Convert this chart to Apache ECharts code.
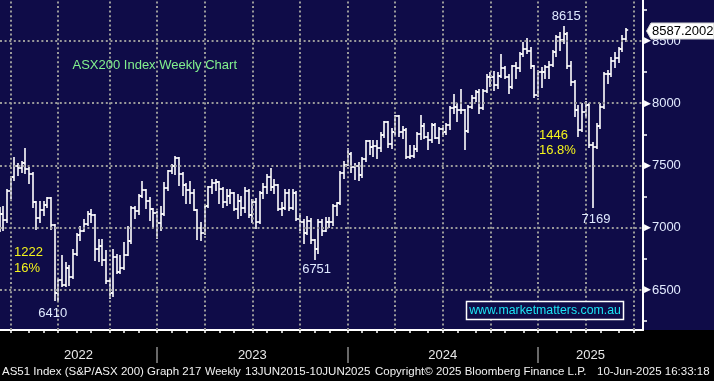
<!DOCTYPE html>
<html><head><meta charset="utf-8">
<script src="https://cdn.jsdelivr.net/npm/echarts@6/dist/echarts.min.js"></script>
<style>
html,body{margin:0;padding:0;}
body{background:linear-gradient(#0f0c48 0,#0f0c48 330px,#000 330px,#000 100%);width:714px;height:381px;overflow:hidden;}
#c{width:714px;height:381px;}
</style>
</head><body><div id="c"></div>
<script>
// Weekly bars, first bar = week ending 2022-03-04
const START_WEEK = '2022-03-04';
const open = [7050,7111,7064,7296,7406,7493,7478,7523,7473,7435,7205,7075,7145,7182,7238,7021,6475,6578,6539,6678,6606,6792,6945,6974,7033,7114,7104,6828,6855,6739,6574,6474,6762,6645,6677,6785,6892,7158,7135,7259,7301,7214,7149,7122,7038,7110,7323,7452,7494,7559,7434,7347,7307,7283,7145,6995,6955,7178,7325,7362,7366,7309,7205,7256,7279,7154,7217,7158,7294,7099,7203,7049,7281,7325,7410,7326,7340,7148,7159,7279,7155,7279,7069,7048,6954,7051,6900,6827,7050,6977,7050,7044,7173,7195,7442,7505,7590,7489,7499,7422,7550,7699,7645,7658,7643,7745,7847,7670,7771,7896,7773,7789,7567,7575,7629,7749,7814,7727,7701,7822,7724,7796,7768,7822,7959,7971,7945,7943,7778,7970,8044,8092,7959,8099,8209,8212,8150,8215,8283,8211,8134,8296,8285,8393,8436,8421,8296,8067,8251,8250,8294,8309,8408,8532,8511,8556,8297,8172,7948,7789,7932,7982,7667,7646,7819,7968,8238,8231,8343,8361,8434,8515];
const high = [7160,7170,7300,7410,7560,7510,7530,7632,7480,7440,7210,7210,7210,7240,7240,7021,6590,6770,6720,6690,6820,6950,7010,7065,7130,7140,7105,6905,6900,6810,6585,6825,6785,6770,6880,7010,7170,7170,7265,7370,7305,7240,7150,7125,7170,7360,7455,7505,7568,7560,7440,7350,7370,7300,7145,7040,7180,7330,7380,7385,7370,7320,7300,7300,7280,7260,7250,7320,7300,7220,7230,7290,7350,7420,7470,7380,7345,7200,7300,7300,7300,7285,7100,7060,7090,7070,6905,7060,7060,7080,7080,7180,7200,7450,7530,7630,7600,7510,7520,7560,7700,7700,7700,7700,7760,7850,7850,7790,7900,7900,7810,7790,7660,7660,7760,7900,7830,7760,7830,7830,7800,7820,7830,7970,8070,7990,8110,7945,7980,8060,8100,8110,8110,8230,8240,8250,8240,8384,8290,8230,8300,8320,8400,8480,8514,8440,8300,8260,8280,8300,8330,8420,8540,8560,8615,8560,8330,8180,7980,7990,8010,7990,7680,7830,7990,8240,8260,8360,8400,8440,8540,8595];
const low = [6975,6985,7050,7240,7380,7420,7450,7440,7358,7170,6990,7050,7100,7170,6990,6420,6410,6530,6530,6540,6600,6780,6900,6970,7020,7050,6740,6730,6700,6555,6433,6450,6640,6640,6670,6780,6880,7080,7110,7250,7160,7060,7010,6920,6985,7100,7300,7440,7430,7345,7265,7200,7200,7140,6910,6900,6950,7170,7280,7300,7200,7170,7180,7200,7140,7080,7100,7130,7090,7050,7000,7040,7240,7280,7300,7280,7140,7100,7150,7140,7150,7060,6980,6880,6950,6880,6751,6800,6940,6970,7010,7020,7100,7190,7400,7500,7450,7390,7380,7410,7540,7590,7580,7560,7620,7730,7650,7640,7750,7740,7720,7560,7560,7570,7620,7710,7720,7630,7690,7720,7680,7740,7750,7790,7920,7860,7920,7630,7770,7960,8020,7920,7950,8090,8140,8110,8120,8210,8200,8080,8120,8200,8260,8380,8400,8280,8050,8060,8130,8200,8200,8300,8380,8430,8480,8280,8150,7900,7733,7780,7890,7650,7169,7640,7800,7960,8160,8220,8290,8330,8420,8500];
const close = [7111,7064,7296,7406,7493,7478,7523,7473,7435,7205,7075,7145,7182,7238,7021,6475,6578,6539,6678,6606,6792,6945,6974,7033,7114,7104,6828,6855,6739,6574,6474,6762,6645,6677,6785,6892,7158,7135,7259,7301,7214,7149,7122,7038,7110,7323,7452,7494,7559,7434,7347,7307,7283,7145,6995,6955,7178,7325,7362,7366,7309,7205,7256,7279,7154,7217,7158,7294,7099,7203,7049,7281,7325,7410,7326,7340,7148,7159,7279,7155,7279,7069,7048,6954,7051,6900,6827,7050,6977,7050,7044,7173,7195,7442,7505,7590,7489,7499,7422,7550,7699,7645,7658,7643,7745,7847,7670,7771,7896,7773,7789,7567,7575,7629,7749,7814,7727,7701,7822,7724,7796,7768,7822,7959,7971,7945,7943,7778,7970,8044,8092,7959,8099,8209,8212,8150,8215,8283,8211,8134,8296,8285,8393,8436,8421,8296,8067,8251,8250,8294,8309,8408,8532,8511,8556,8297,8172,7948,7789,7932,7982,7667,7646,7819,7968,8238,8231,8343,8361,8434,8515,8587.2002];
const lastPriceText = '8587.2002';
const yLabelTicks = [6500,7000,7500,8000,8500];
const yMinorTicks = [6250,6750,7250,7750,8250,8750];
const yearNames = ['2022','2023','2024','2025'];
const titleText = 'ASX200 Index Weekly Chart';
const siteText = 'www.marketmatters.com.au';
const footerParts = ['AS51 Index (S&P/ASX 200) Graph 217','Weekly','13JUN2015-10JUN2025','Copyright\u00a9 2025 Bloomberg Finance L.P.','10-Jun-2025 16:33:18'];

// axis range in week-index units
const X_MIN = 0.1, X_MAX = 175.66;
const Y_MIN = 6179, Y_MAX = 8829;

const DAY = 86400000, WEEK = 7*DAY;
const t0 = Date.parse(START_WEEK + 'T00:00:00Z');
function weekTime(k){ return t0 + k*WEEK; }

const monthTicks = [], quarterLines = [], yearBounds = [];
for (let y = 2022; y <= 2025; y++) {
  for (let m = 0; m < 12; m++) {
    const M = Date.UTC(y, m, 1);
    let k = Math.floor((M - t0) / WEEK);
    if (weekTime(k) >= M) k--;
    if (k < X_MIN || k > X_MAX) continue;
    monthTicks.push(k);
    if (m % 3 === 0) quarterLines.push(k);
    if (m === 0) yearBounds.push(k);
  }
}
const edges = [X_MIN].concat(yearBounds, [X_MAX]);
const yearMids = [];
for (let i = 0; i < edges.length - 1; i++) yearMids.push((edges[i] + edges[i+1]) / 2);

const ohlc = close.map((c, i) => [i, open[i], high[i], low[i], c]);

function yearOf(k){ return new Date(weekTime(k)).getUTCFullYear(); }
function extremeIdx(arr, pick, filter){
  let best = -1;
  for (let i = 0; i < arr.length; i++) {
    if (!filter(i)) continue;
    if (best < 0 || pick(arr[i], arr[best])) best = i;
  }
  return best;
}
const iPeak = extremeIdx(high, (a,b)=>a>b, ()=>true);
const iLow22 = extremeIdx(low, (a,b)=>a<b, i=>yearOf(i)===2022);
const iTop22 = extremeIdx(high, (a,b)=>a>b, i=>i<iLow22);
const iLow23 = extremeIdx(low, (a,b)=>a<b, i=>yearOf(i)===2023);
const iLow25 = extremeIdx(low, (a,b)=>a<b, i=>yearOf(i)===2025);
function pctText(d, base){ let p = (d/base*100).toFixed(1); if (p.endsWith('.0')) p = p.slice(0,-2); return p + '%'; }
const drop1 = Math.round(high[iTop22] - low[iLow22]);
const drop2 = Math.round(high[iPeak] - low[iLow25]);

const chart = echarts.init(document.getElementById('c'), null, {renderer:'canvas'});
const FONT = '"Liberation Sans", Arial, sans-serif';
const gridStyle = {type:[2,2.6], color:'#9a9a9a', width:2};

chart.setOption({
  animation: false,
  backgroundColor: 'transparent',
  textStyle: {fontFamily: FONT},
  grid: {left: 0, right: 71, top: 0, bottom: 51, containLabel: false},
  xAxis: [{
    type: 'value', min: X_MIN, max: X_MAX, position: 'bottom',
    axisLine: {show: true, onZero: false, lineStyle: {color: '#ffffff', width: 2}},
    axisTick: {show: true, customValues: monthTicks, length: 3, inside: false, lineStyle: {color: '#ffffff', width: 1.5}},
    axisLabel: {show: true, customValues: yearMids, margin: 19, color: '#e8e8e8', fontSize: 13, fontFamily: FONT,
      formatter: function(v){ let b = 0; for (let i = 0; i < yearMids.length; i++) if (Math.abs(yearMids[i]-v) < Math.abs(yearMids[b]-v)) b = i; return yearNames[b]; }},
    splitLine: {show: false}
  }, {
    type: 'value', min: X_MIN, max: X_MAX, position: 'bottom', offset: 17,
    axisLine: {show: false, onZero: false},
    axisTick: {show: true, customValues: yearBounds, length: 16, inside: false, lineStyle: {color: '#8a8a8a', width: 1.5}},
    axisLabel: {show: false},
    splitLine: {show: false}
  }],
  yAxis: {
    type: 'value', min: Y_MIN, max: Y_MAX, position: 'right',
    axisLine: {show: true, onZero: false, lineStyle: {color: '#ffffff', width: 2}},
    axisTick: {show: true, customValues: yMinorTicks, length: 4, lineStyle: {color: '#ffffff', width: 1.5}},
    axisLabel: {show: true, customValues: yLabelTicks, margin: 1,
      formatter: v => '{a|\u25B6}{b|' + v + '}',
      rich: {a: {fontSize: 9, color: '#ffffff', fontFamily: '"DejaVu Sans"', padding: [0, 1, 0, 0]}, b: {fontSize: 13, color: '#e2eaff', fontFamily: FONT}}},
    splitLine: {show: false}
  },
  series: [{
    type: 'line', data: [], z: 1, silent: true,
    markLine: {
      silent: true, symbol: ['none','none'], label: {show: false}, animation: false,
      lineStyle: gridStyle,
      data: quarterLines.map(q => ({xAxis: q})).concat(yLabelTicks.map(v => ({yAxis: v})))
    }
  }, {
    type: 'custom', z: 3, clip: true, data: ohlc,
    encode: {x: 0, y: [1,2,3,4]},
    renderItem: function(params, api){
      const j = api.value(0);
      const pO = api.coord([j, api.value(1)]);
      const pH = api.coord([j, api.value(2)]);
      const pL = api.coord([j, api.value(3)]);
      const pC = api.coord([j, api.value(4)]);
      const x = Math.round(pH[0]);
      const yo = Math.round(pO[1]), yc = Math.round(pC[1]);
      const st = {stroke: '#ffffff', lineWidth: 1.6};
      return {type: 'group', children: [
        {type: 'line', shape: {x1: x, y1: Math.round(pH[1]) - 1, x2: x, y2: Math.round(pL[1]) + 1}, style: st},
        {type: 'line', shape: {x1: x - 2.2, y1: yo, x2: x, y2: yo}, style: st},
        {type: 'line', shape: {x1: x, y1: yc, x2: x + 2.2, y2: yc}, style: st}
      ]};
    }
  }]
});

function px(i, v){ return chart.convertToPixel({gridIndex: 0}, [i, v]); }
const pPeak = px(iPeak, high[iPeak]);
const pL22 = px(iLow22, low[iLow22]);
const pL23 = px(iLow23, low[iLow23]);
const pL25 = px(iLow25, low[iLow25]);
const pLast = px(close.length - 1, close[close.length - 1]);
const lblStyle = (t) => ({text: t, fill: '#dfe9ff', font: '13px ' + FONT, textAlign: 'center', textVerticalAlign: 'middle'});
const yel = (t) => ({text: t, fill: '#f4f41c', font: '13px ' + FONT, textAlign: 'left', textVerticalAlign: 'middle'});
const yc = Math.round(pLast[1]) + 1;
const fy = 372;
const foot = (t, x, fs) => ({type: 'text', x: x, y: fy, z: 100, style: {text: t, fill: '#f2f2f2', font: (fs || 11.5) + 'px ' + FONT, textVerticalAlign: 'middle'}});

chart.setOption({
  graphic: [
    {type: 'text', x: 72.5, y: 65.5, z: 100, style: {text: titleText, fill: '#82f08e', font: '13px ' + FONT, textVerticalAlign: 'middle'}},
    {type: 'text', x: pPeak[0] + 2.5, y: pPeak[1] - 10, z: 100, style: lblStyle(String(Math.round(high[iPeak])))},
    {type: 'text', x: pL25[0] + 3, y: pL25[1] + 12.5, z: 100, style: lblStyle(String(Math.round(low[iLow25])))},
    {type: 'text', x: pL23[0] + 2, y: pL23[1] + 11, z: 100, style: lblStyle(String(Math.round(low[iLow23])))},
    {type: 'text', x: pL22[0] - 5.5, y: pL22[1] + 12.5, z: 100, style: lblStyle(String(Math.round(low[iLow22])))},
    {type: 'text', x: 14, y: 252, z: 100, style: yel(String(drop1))},
    {type: 'text', x: 14, y: 268, z: 100, style: yel(pctText(drop1, high[iTop22]))},
    {type: 'text', x: 539, y: 135.5, z: 100, style: yel(String(drop2))},
    {type: 'text', x: 539, y: 150.5, z: 100, style: yel(pctText(drop2, high[iPeak]))},
    {type: 'rect', z: 100, shape: {x: 466.5, y: 301.5, width: 157, height: 18}, style: {fill: '#0f0c48', stroke: '#ffffff', lineWidth: 1.5}},
    {type: 'text', x: 545, y: 310.5, z: 101, style: {text: siteText, fill: '#1ce4f4', font: '12.3px ' + FONT, textAlign: 'center', textVerticalAlign: 'middle'}},
    {type: 'polygon', z: 100, shape: {points: [[646.5, yc], [651, yc - 8], [714, yc - 8], [714, yc + 8], [651, yc + 8]]}, style: {fill: '#ffffff', stroke: '#d0d0d0', lineWidth: 1}},
    {type: 'text', x: 652, y: yc, z: 101, style: {text: lastPriceText, fill: '#000000', font: '13px ' + FONT, textVerticalAlign: 'middle'}},
    foot(footerParts[0], 2),
    foot(footerParts[1], 205, 11),
    foot(footerParts[2], 245),
    foot(footerParts[3], 375),
    foot(footerParts[4], 597)
  ]
});
</script>
</body></html>
